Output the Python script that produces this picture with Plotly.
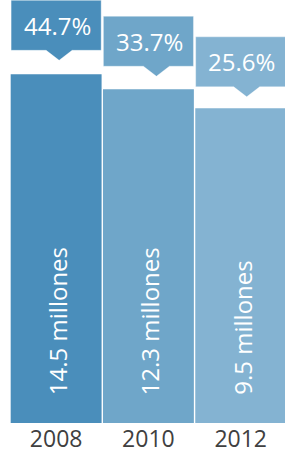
import plotly.graph_objects as go

# ---- data ----
years = ["2008", "2010", "2012"]
millions = [14.5, 12.3, 9.5]
percents = [44.7, 33.7, 25.6]

# ---- style ----
colors = ["#4a8ebb", "#6fa6c9", "#84b3d2"]
tip_offset_px = [3, 8, 6]        # pointer horizontal offset from bar centre
gap_px = [24, 23, 21.5]          # box bottom above bar top
FONT = "Open Sans"
Y_MIN, Y_MAX = -36.78, 25.43
HALF = 0.488

xs = list(range(len(years)))

fig = go.Figure()
fig.add_trace(go.Bar(
    x=xs, y=[v - Y_MIN for v in millions], base=Y_MIN,
    marker=dict(color=colors, line=dict(width=0)),
    hoverinfo="skip",
))

shapes = []
annotations = []
for i, (v, p) in enumerate(zip(millions, percents)):
    g = gap_px[i]
    px_per_unit = 92.3
    t = tip_offset_px[i] / px_per_unit
    hw = 13 / px_per_unit
    x0, x1 = i - HALF, i + HALF
    xc = i + t
    path = (f"M {x0},{g} L {xc-hw},{g} L {xc},{g-10} L {xc+hw},{g} "
            f"L {x1},{g} L {x1},{g+50} L {x0},{g+50} Z")
    shapes.append(dict(
        type="path", xref="x", yref="y", ysizemode="pixel", yanchor=v,
        path=path, fillcolor=colors[i],
        line=dict(color="rgba(255,255,255,0.35)", width=1), layer="above",
    ))
    annotations.append(dict(
        x=i, y=v, xref="x", yref="y", text=f"{p}%", showarrow=False,
        xanchor="center", yanchor="middle", yshift=g + 25, xshift=1,
        font=dict(family=FONT, size=24, color="white"),
    ))
    annotations.append(dict(
        x=i, y=Y_MIN, xref="x", yref="y", text=f"{v} millones", showarrow=False,
        textangle=-90, xanchor="center", yanchor="bottom", yshift=26, xshift=1,
        font=dict(family=FONT, size=24, color="white"),
    ))

fig.update_layout(
    width=285, height=455, autosize=False,
    margin=dict(l=10, r=0, t=0, b=32),
    paper_bgcolor="white", plot_bgcolor="white",
    showlegend=False, bargap=0.015,
    shapes=shapes, annotations=annotations,
    xaxis=dict(range=[-0.5, 2.48], tickvals=xs, ticktext=years,
               showgrid=False, zeroline=False, showline=False, ticks="",
               tickfont=dict(family=FONT, size=23, color="#404040"), fixedrange=True),
    yaxis=dict(range=[Y_MIN, Y_MAX], visible=False, fixedrange=True),
)

fig.write_html("out.html", config={"displayModeBar": False},
               post_script="document.body.style.margin='0';document.body.style.padding='0';")
